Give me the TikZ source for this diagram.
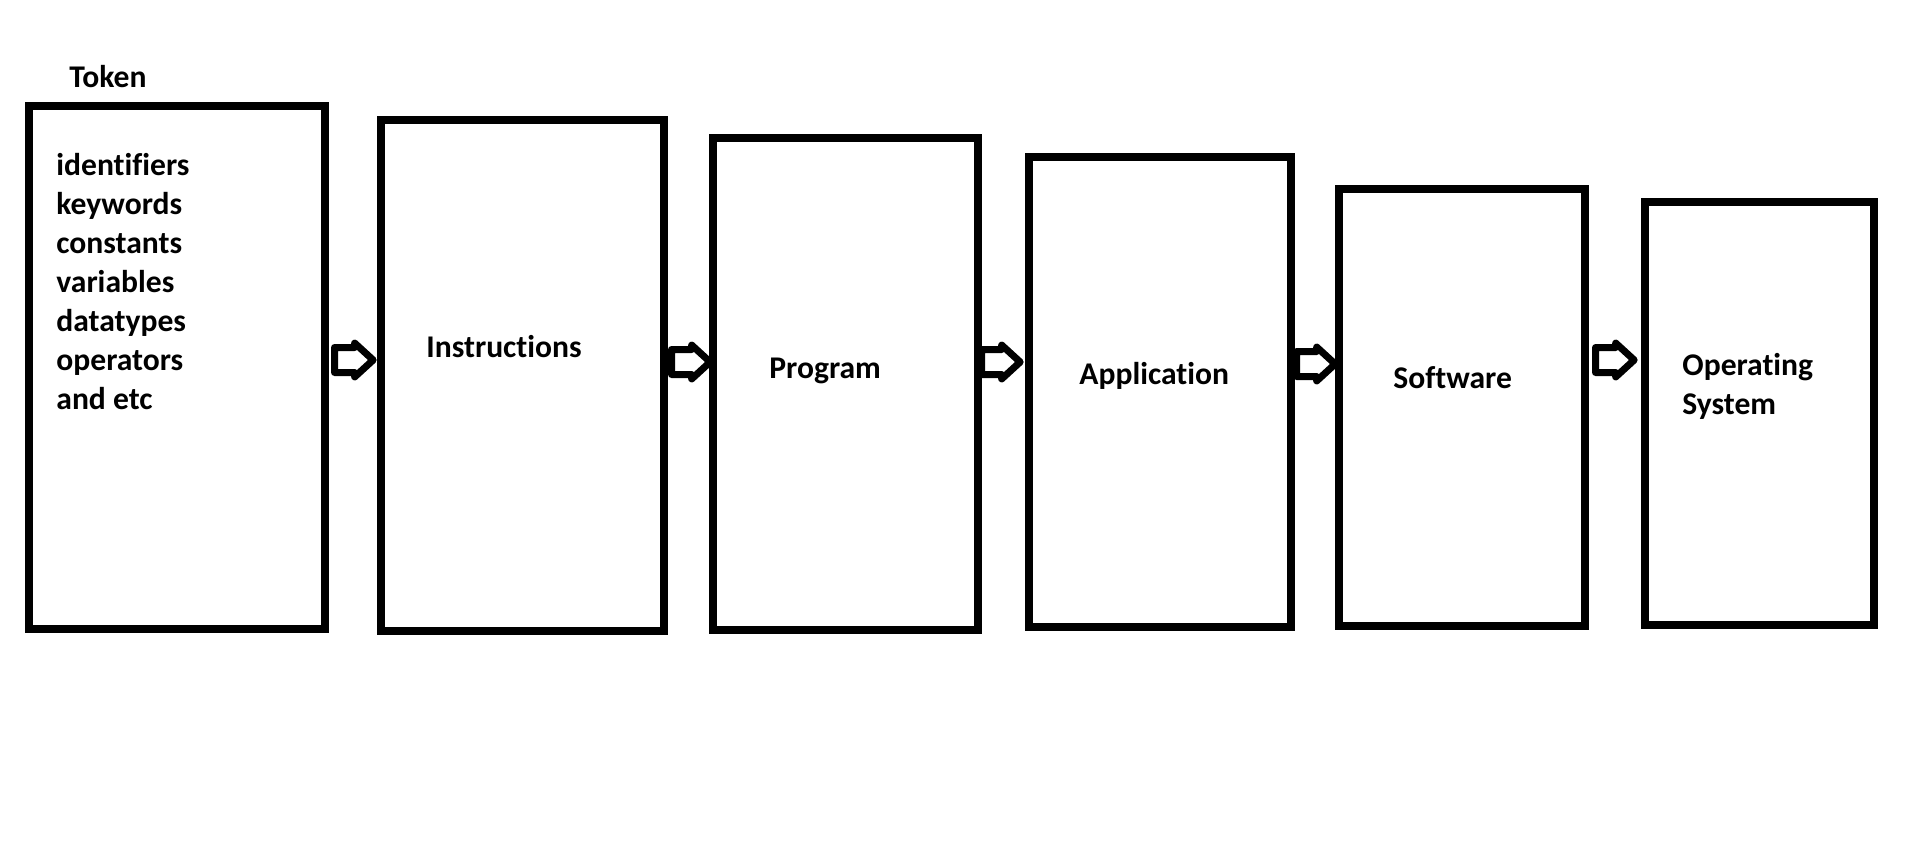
\documentclass[tikz,border=0pt]{standalone}
\usepackage{fontspec}
\setmainfont{Carlito}[Ligatures={NoCommon,NoRequired,NoContextual}]
\usetikzlibrary{fit,shapes.arrows}
\tikzset{
  box/.style={draw=black, line width=4pt, inner sep=0pt, fill=none},
  lbl/.style={anchor=base west, inner sep=0pt, font=\fontsize{15.8}{19.5}\selectfont\bfseries},
  blockarrow/.style={single arrow, draw=black, fill=white, line width=3.5pt, line join=round,
    minimum height=18.5pt, minimum width=14pt, inner sep=4.5pt,
    single arrow head extend=2.2pt, single arrow tip angle=85}
}
\begin{document}
\begin{tikzpicture}[x=0.5pt,y=-0.5pt]
\useasboundingbox (0,0) rectangle (1914,848);
\node[box, fit={(29,106) (325,629)}] (b1) {};
\node[box, fit={(381,120) (664,631)}] (b2) {};
\node[box, fit={(713,138) (978,630)}] (b3) {};
\node[box, fit={(1029,157) (1291,627)}] (b4) {};
\node[box, fit={(1339,189) (1585,626)}] (b5) {};
\node[box, fit={(1645,202) (1874,625)}] (b6) {};
\node[lbl] (tok) at (69,87) {Token};
\node[lbl] (l1) at (56,175) {identifiers};
\node[lbl] (l2) at (56,214) {keywords};
\node[lbl] (l3) at (56,253) {constants};
\node[lbl] (l4) at (56,292) {variables};
\node[lbl] (l5) at (56,331) {datatypes};
\node[lbl] (l6) at (56,370) {operators};
\node[lbl] (l7) at (56,409) {and etc};
\node[lbl] (t2) at (426,357) {Instructions};
\node[lbl] (t3) at (769,378) {Program};
\node[lbl] (t4) at (1079,384) {Application};
\node[lbl] (t5) at (1393,388) {Software};
\node[lbl] (t6a) at (1682,375) {Operating};
\node[lbl] (t6b) at (1682,414) {System};
\node[blockarrow] (a1) at (347,360) {};
\node[blockarrow] (a2) at (684,362) {};
\node[blockarrow] (a3) at (994,362) {};
\node[blockarrow] (a4) at (1309,364) {};
\node[blockarrow] (a5) at (1608,360) {};
\end{tikzpicture}
\end{document}
